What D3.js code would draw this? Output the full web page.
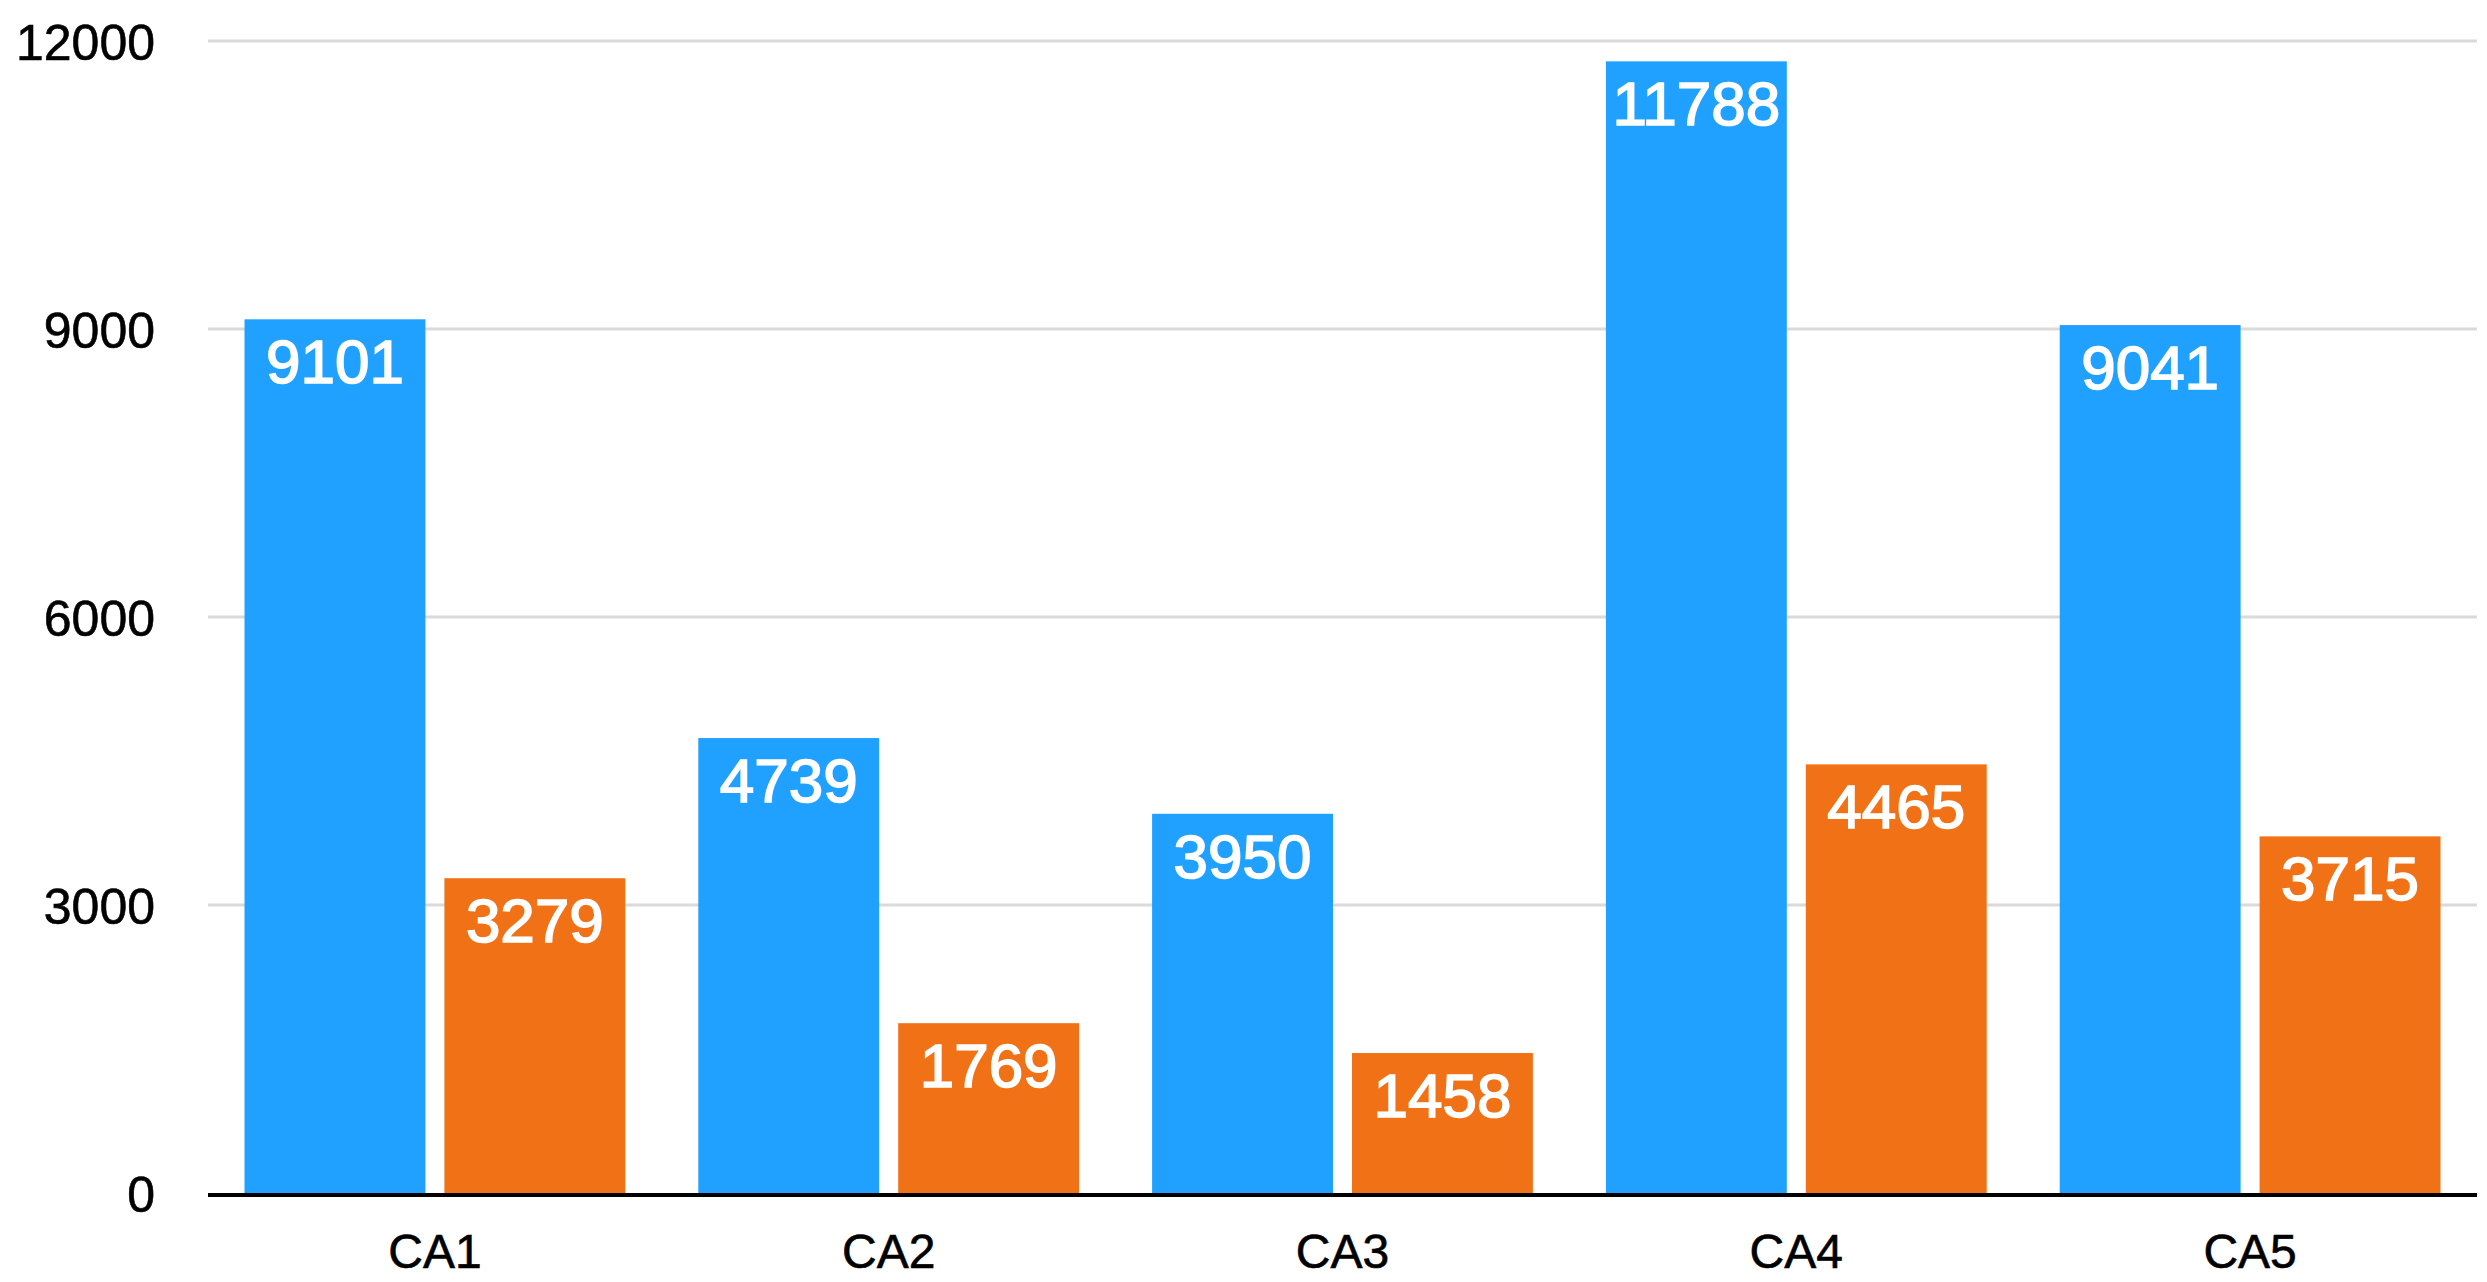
<!DOCTYPE html>
<html>
<head>
<meta charset="utf-8">
<script src="https://cdn.jsdelivr.net/npm/d3@7"></script>
<style>
  html, body { margin: 0; padding: 0; background: #ffffff; }
  svg { display: block; }
  text { font-family: "Liberation Sans", Arial, Helvetica, sans-serif; }
</style>
</head>
<body>
<svg id="chart" width="2487" height="1282"></svg>
<script>
const categories = ["CA1", "CA2", "CA3", "CA4", "CA5"];
const seriesNames = ["A", "B"];
const seriesA = [9101, 4739, 3950, 11788, 9041];
const seriesB = [3279, 1769, 1458, 4465, 3715];
const yTicks = [0, 3000, 6000, 9000, 12000];
const colors = ["#21a1ff", "#f17216"];

const svg = d3.select("#chart");
const plotLeft = 208, plotRight = 2477, plotTop = 41, plotBottom = 1193;

const x0 = d3.scaleBand().domain(categories).range([plotLeft, plotRight]).padding(0);
const x1 = d3.scaleBand().domain(seriesNames)
  .range([36.5, x0.bandwidth() - 36.5]).paddingInner(0.095).paddingOuter(0);
const y = d3.scaleLinear().domain([0, 12000]).range([plotBottom, plotTop]);

// gridlines
svg.append("g")
  .selectAll("line")
  .data(yTicks.filter(d => d > 0))
  .join("line")
  .attr("x1", plotLeft).attr("x2", plotRight)
  .attr("y1", d => y(d)).attr("y2", d => y(d))
  .attr("stroke", "#dadada").attr("stroke-width", 3);

// y axis labels
const yAxis = d3.axisLeft(y).tickValues(yTicks).tickSize(0).tickPadding(0).tickFormat(d3.format("d"));
const yg = svg.append("g").attr("transform", "translate(155,0)").call(yAxis);
yg.select(".domain").remove();
yg.selectAll("text")
  .attr("font-size", 50)
  .attr("fill", "#000")
  .attr("stroke", "#000").attr("stroke-width", 0.6)
  .attr("font-family", "'Liberation Sans', Arial, Helvetica, sans-serif")
  .attr("dy", "0.36em");

const rows = categories.map((c, i) => ({ cat: c, vals: [seriesA[i], seriesB[i]] }));

const groups = svg.append("g").selectAll("g")
  .data(rows).join("g")
  .attr("transform", d => `translate(${x0(d.cat)},0)`);

groups.selectAll("rect")
  .data(d => d.vals.map((v, j) => ({ key: seriesNames[j], v, j })))
  .join("rect")
  .attr("x", d => x1(d.key))
  .attr("width", x1.bandwidth())
  .attr("y", d => y(d.v))
  .attr("height", d => y(0) - y(d.v))
  .attr("fill", d => colors[d.j]);

groups.selectAll("text.val")
  .data(d => d.vals.map((v, j) => ({ key: seriesNames[j], v, j })))
  .join("text")
  .attr("class", "val")
  .attr("x", d => x1(d.key) + x1.bandwidth() / 2)
  .attr("y", d => y(d.v) + 64)
  .attr("text-anchor", "middle")
  .attr("fill", "#ffffff")
  .attr("stroke", "#ffffff").attr("stroke-width", 1.6)
  .attr("font-size", 62)
  .text(d => d.v);

// baseline
svg.append("line")
  .attr("x1", plotLeft).attr("x2", plotRight)
  .attr("y1", y(0) + 2).attr("y2", y(0) + 2)
  .attr("stroke", "#000").attr("stroke-width", 4);

// x axis labels
const xAxis = d3.axisBottom(x0).tickSize(0).tickPadding(0);
const xg = svg.append("g").attr("transform", `translate(0,${y(0)})`).call(xAxis);
xg.select(".domain").remove();
xg.selectAll("text")
  .attr("font-size", 48)
  .attr("fill", "#000")
  .attr("stroke", "#000").attr("stroke-width", 0.6)
  .attr("font-family", "'Liberation Sans', Arial, Helvetica, sans-serif")
  .attr("dy", 0)
  .attr("y", 75);
</script>
</body>
</html>
